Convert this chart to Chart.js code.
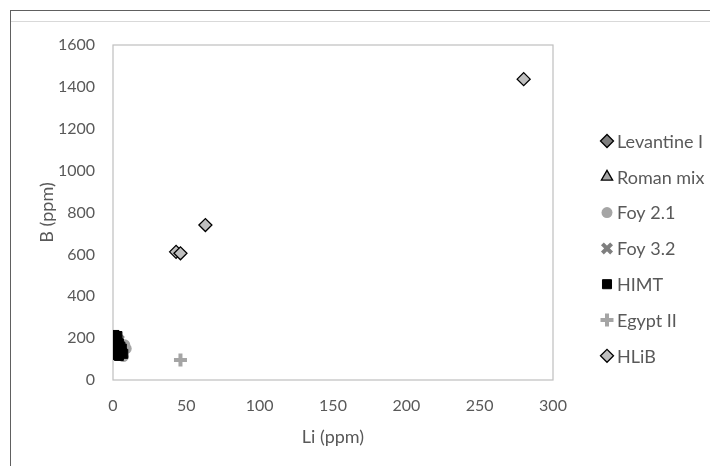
<!DOCTYPE html>
<html>
<head>
<meta charset="utf-8">
<script src="https://cdn.jsdelivr.net/npm/chart.js@4/dist/chart.umd.min.js"></script>
<style>
    html, body { margin: 0; padding: 0; background: #fff; }
    #wrap { position: relative; width: 710px; height: 466px; overflow: hidden; }
    #frameTop { position: absolute; left: 10px; top: 10px; width: 700px; height: 0; border-top: 1.5px solid #606060; }
    #frameLeft { position: absolute; left: 10px; top: 10px; width: 0; height: 456px; border-left: 1.5px solid #606060; }
    #frameInner { position: absolute; left: 11px; top: 21px; width: 699px; height: 0; border-top: 1px solid #d9d9d9; }
</style>
</head>
<body>
<div id="wrap">
    <canvas id="scatterChart" width="710" height="466"></canvas>
    <div id="frameTop"></div>
    <div id="frameLeft"></div>
    <div id="frameInner"></div>
</div>
<script>
// Series names (legend order)
const seriesNames = ['Levantine I', 'Roman mix', 'Foy 2.1', 'Foy 3.2', 'HIMT', 'Egypt II', 'HLiB'];

// Li (ppm) / B (ppm) per series
const levantineLi = [3, 5];
const levantineB = [180, 150];
const romanLi = [4];
const romanB = [165];
const foy21Li = [9, 8, 7];
const foy21B = [150, 168, 112];
const foy32Li = [5, 4];
const foy32B = [140, 190];
const himtLi = [1, 3, 2, 4, 1.5, 5, 3, 6, 2, 4, 7, 6];
const himtB = [215, 210, 185, 175, 160, 160, 140, 130, 120, 115, 125, 150];
const egyptLi = [46];
const egyptB = [96];
const hlibLi = [280, 63, 43, 46];
const hlibB = [1437, 740, 612, 605];

// Axis ticks
const xTicks = [0, 50, 100, 150, 200, 250, 300];
const yTicks = [0, 200, 400, 600, 800, 1000, 1200, 1400, 1600];

const textColor = '#595959';
const fontFamily = 'Lato, "Open Sans", sans-serif';

function toPoints(xs, ys) {
    return xs.map((x, i) => ({ x: x, y: ys[i] }));
}

const datasets = [
    { label: seriesNames[0], data: toPoints(levantineLi, levantineB), pointStyle: 'rectRot', pointRadius: 6.5,
      backgroundColor: '#7f7f7f', borderColor: '#000', pointBorderWidth: 1.3, order: 5 },
    { label: seriesNames[1], data: toPoints(romanLi, romanB), pointStyle: 'triangle', pointRadius: 6.5,
      backgroundColor: '#a5a5a5', borderColor: '#000', pointBorderWidth: 1.3, order: 6 },
    { label: seriesNames[2], data: toPoints(foy21Li, foy21B), pointStyle: 'circle', pointRadius: 5.5,
      backgroundColor: '#a5a5a5', borderColor: '#a5a5a5', pointBorderWidth: 0, order: 3 },
    { label: seriesNames[3], data: toPoints(foy32Li, foy32B), pointStyle: 'crossRot', pointRadius: 6.5,
      backgroundColor: '#7f7f7f', borderColor: '#7f7f7f', pointBorderWidth: 4, order: 4 },
    { label: seriesNames[4], data: toPoints(himtLi, himtB), pointStyle: 'rect', pointRadius: 6.4,
      backgroundColor: '#000', borderColor: '#000', pointBorderWidth: 1, order: 1 },
    { label: seriesNames[5], data: toPoints(egyptLi, egyptB), pointStyle: 'cross', pointRadius: 6.5,
      backgroundColor: '#a5a5a5', borderColor: '#a5a5a5', pointBorderWidth: 4, order: 2 },
    { label: seriesNames[6], data: toPoints(hlibLi, hlibB), pointStyle: 'rectRot', pointRadius: 6.5,
      backgroundColor: '#bfbfbf', borderColor: '#000', pointBorderWidth: 1.3, order: 0 }
];

// Plot area box drawn under the markers
const plotBox = {
    id: 'plotBox',
    beforeDatasetsDraw(chart) {
        const { ctx, chartArea } = chart;
        ctx.save();
        ctx.strokeStyle = '#bfbfbf';
        ctx.lineWidth = 1.2;
        ctx.strokeRect(chartArea.left, chartArea.top, chartArea.right - chartArea.left, chartArea.bottom - chartArea.top);
        ctx.restore();
    }
};

// Legend on the right, Excel style
const sideLegend = {
    id: 'sideLegend',
    afterDraw(chart) {
        const { ctx } = chart;
        const markerX = 607;
        const textX = 617;
        const startY = 141;
        const step = 35.8;
        ctx.save();
        chart.data.datasets.forEach((ds, i) => {
            const y = startY + i * step;
            ctx.fillStyle = ds.backgroundColor;
            ctx.strokeStyle = ds.borderColor;
            ctx.lineWidth = ds.pointBorderWidth;
            Chart.helpers.drawPoint(ctx, {
                pointStyle: ds.pointStyle,
                radius: ds.pointRadius,
                rotation: 0,
                borderWidth: ds.pointBorderWidth
            }, markerX, y);
            ctx.fillStyle = textColor;
            ctx.font = '18px ' + fontFamily;
            ctx.textAlign = 'left';
            ctx.textBaseline = 'middle';
            ctx.fillText(ds.label, textX, y + 1);
        });
        ctx.restore();
    }
};

const ctx = document.getElementById('scatterChart').getContext('2d');
new Chart(ctx, {
    type: 'scatter',
    data: { datasets: datasets },
    options: {
        responsive: false,
        animation: false,
        layout: { padding: { top: 45, right: 157, bottom: 0, left: 0 } },
        plugins: { legend: { display: false }, tooltip: { enabled: false } },
        scales: {
            x: {
                type: 'linear',
                min: xTicks[0],
                max: xTicks[xTicks.length - 1],
                afterBuildTicks: (scale) => { scale.ticks = xTicks.map(v => ({ value: v })); },
                afterFit: (scale) => { scale.height = 86; },
                grid: { display: false, drawTicks: false },
                border: { display: false },
                ticks: { color: textColor, font: { family: fontFamily, size: 16 }, padding: 16, maxRotation: 0,
                         callback: (v) => String(v) },
                title: { display: true, text: 'Li (ppm)', color: textColor,
                         font: { family: fontFamily, size: 18 }, padding: { top: 0, bottom: 18 } }
            },
            y: {
                type: 'linear',
                min: yTicks[0],
                max: yTicks[yTicks.length - 1],
                afterBuildTicks: (scale) => { scale.ticks = yTicks.map(v => ({ value: v })); },
                afterFit: (scale) => { scale.width = 113; },
                grid: { display: false, drawTicks: false },
                border: { display: false },
                ticks: { color: textColor, font: { family: fontFamily, size: 16 }, padding: 18,
                         callback: (v) => String(v) },
                title: { display: true, text: 'B (ppm)', color: textColor,
                         font: { family: fontFamily, size: 18 }, padding: { top: 36, bottom: 0 } }
            }
        }
    },
    plugins: [plotBox, sideLegend]
});
</script>
</body>
</html>
